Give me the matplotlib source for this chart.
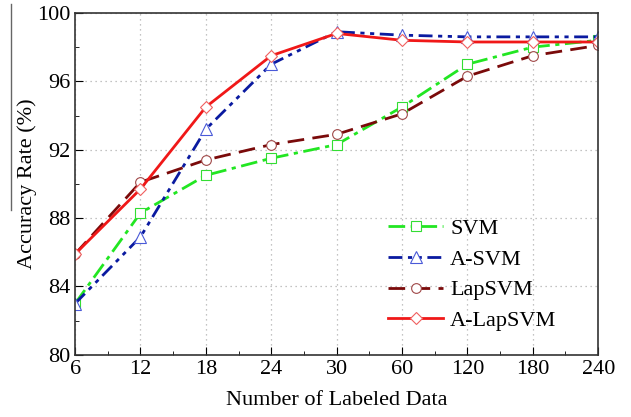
import matplotlib
matplotlib.use("Agg")
import matplotlib.pyplot as plt
from matplotlib.lines import Line2D
from matplotlib.ticker import MultipleLocator

plt.rcParams['font.family'] = ['Liberation Serif', 'DejaVu Serif']

labels = ["6", "12", "18", "24", "30", "60", "120", "180", "240"]
svm = [83.0, 88.3, 90.5, 91.5, 92.3, 94.5, 97.0, 98.0, 98.4]
a_svm = [83.0, 86.9, 93.2, 97.0, 98.9, 98.7, 98.6, 98.6, 98.6]
lap_svm = [85.9, 90.1, 91.4, 92.3, 92.9, 94.1, 96.3, 97.5, 98.1]
a_lap_svm = [85.9, 89.7, 94.5, 97.5, 98.8, 98.4, 98.3, 98.3, 98.3]

x = list(range(len(labels)))

fig = plt.figure(figsize=(6.31, 4.17), dpi=100)
ax = fig.add_axes([0.119, 0.149, 0.829, 0.820])

ax.plot(x, svm, color="#22e622", lw=2, dashes=(6, 2, 1.5, 2),
        marker="s", ms=7, mfc="white", mec="#33dd33", mew=0.8, label="SVM")
ax.plot(x, a_svm, color="#0a1aa0", lw=2, dashes=(5, 2, 1.5, 2, 1.5, 2),
        marker="^", ms=8, mfc="white", mec="#4a5ad8", mew=0.8, label="A-SVM")
ax.plot(x, lap_svm, color="#7a0a0a", lw=2, dashes=(6, 3),
        marker="o", ms=7, mfc="white", mec="#a04848", mew=0.8, label="LapSVM")
ax.plot(x, a_lap_svm, color="#f01818", lw=2, linestyle="-",
        marker="D", ms=6.5, mfc="white", mec="#f06060", mew=0.8, label="A-LapSVM")

ax.set_xlim(0, len(labels) - 1)
ax.set_ylim(80, 100)
ax.set_xticks(x)
ax.set_xticklabels(labels)
ax.xaxis.set_minor_locator(MultipleLocator(0.5))
ax.yaxis.set_major_locator(MultipleLocator(4))
ax.yaxis.set_minor_locator(MultipleLocator(2))
ax.tick_params(which="both", direction="in", top=False, right=False, labelsize=16)
ax.tick_params(which="major", length=6)
ax.tick_params(which="minor", length=3)
ax.grid(True, which="major", linestyle=(0, (1, 3)), color="#b0b0b0", lw=0.9)
for s in ax.spines.values():
    s.set_linewidth(1.2)
    s.set_color("#333333")

ax.set_xlabel("Number of Labeled Data", fontsize=16, labelpad=9)
ax.set_ylabel("Accuracy Rate (%)", fontsize=16, labelpad=0)

ax.legend(loc="lower left", bbox_to_anchor=(0.598, 0.07), frameon=False,
          fontsize=16, handlelength=2.5, handletextpad=0.3, labelspacing=0.45,
          borderpad=0, borderaxespad=0)

# stray rule at the left edge of the original image
fig.add_artist(Line2D([0.018, 0.018], [0.496, 0.99], color="#666666", lw=1,
                      transform=fig.transFigure))

fig.savefig("out.png", dpi=100)
